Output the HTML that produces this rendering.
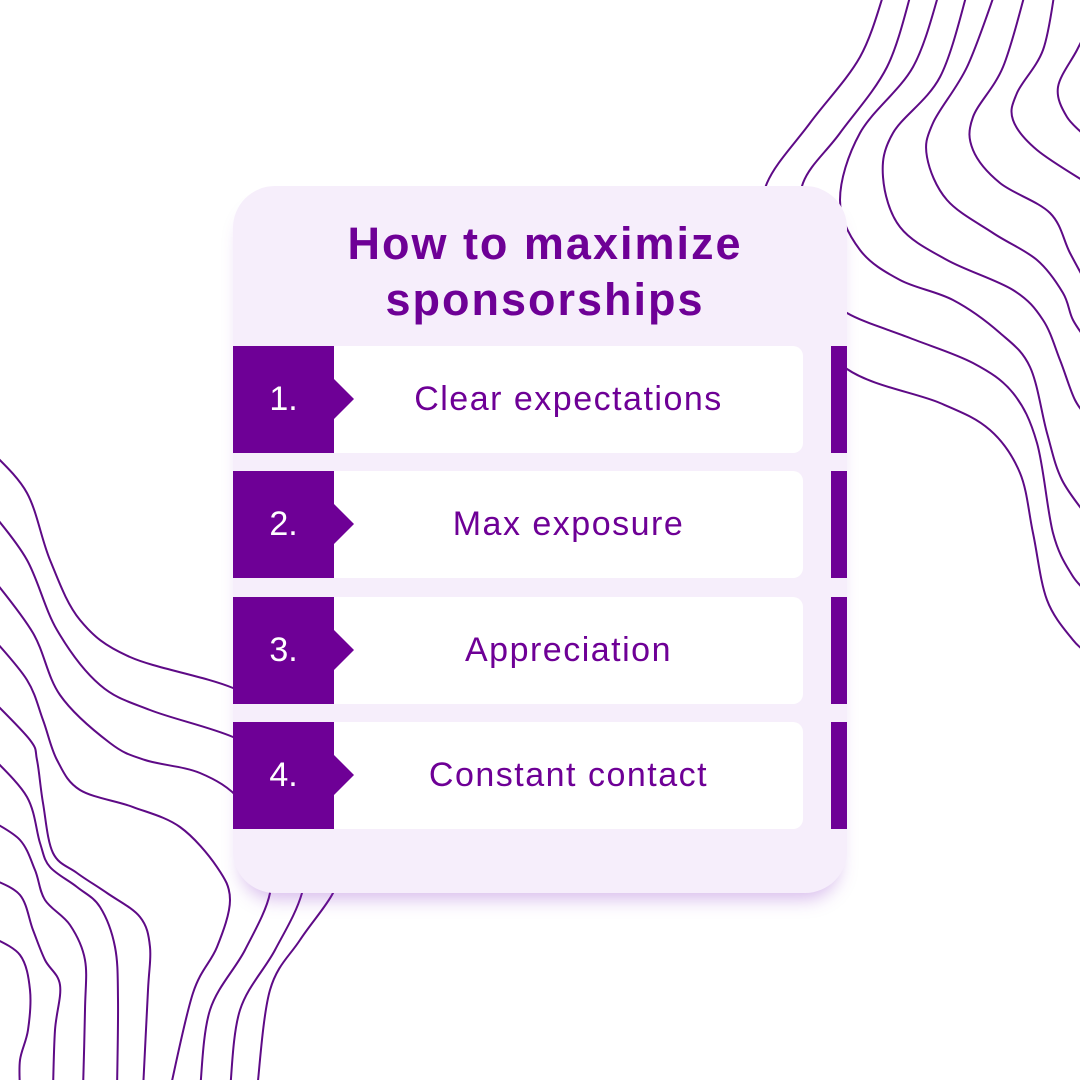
<!DOCTYPE html>
<html><head><style>
html,body{margin:0;padding:0;background:#fff;width:1080px;height:1080px;overflow:hidden;}
body{position:relative;font-family:"Liberation Sans",sans-serif;}
svg.bg{position:absolute;left:0;top:0;display:block;}
.card{position:absolute;left:233px;top:186px;width:614px;height:707px;background:#f6eefb;border-radius:42px;box-shadow:0 14px 18px -8px rgba(140,60,200,0.35);}
.title{position:absolute;left:233px;top:216px;width:624px;text-align:center;color:#6e0096;font-weight:bold;font-size:45px;line-height:56px;letter-spacing:2px;}
.row{position:absolute;left:233px;width:614px;height:107px;}
.num{position:absolute;left:0;top:0;width:101px;height:107px;background:#6e0096;color:#fff;font-size:34px;line-height:107px;text-align:center;}
.tri{position:absolute;left:101px;top:33px;width:0;height:0;border-top:20px solid transparent;border-bottom:20px solid transparent;border-left:20px solid #6e0096;}
.box{position:absolute;left:101px;top:0;width:469px;height:107px;background:#fff;border-radius:0 10px 10px 0;color:#6e0096;font-size:34px;line-height:107px;text-align:center;letter-spacing:1.5px;}
.bar{position:absolute;left:598px;top:0;width:16px;height:107px;background:#6e0096;}
</style></head><body>
<svg class="bg" id="bg" width="1080" height="1080" viewBox="0 0 1080 1080" fill="none" stroke="#5e0a86" stroke-width="2"></svg>
<div class="card"></div>
<div class="title">How to maximize<br>sponsorships</div>
<div class="row" style="top:346px"><div class="box">Clear expectations</div><div class="num">1.</div><div class="tri"></div><div class="bar"></div></div>
<div class="row" style="top:471px"><div class="box">Max exposure</div><div class="num">2.</div><div class="tri"></div><div class="bar"></div></div>
<div class="row" style="top:597px"><div class="box">Appreciation</div><div class="num">3.</div><div class="tri"></div><div class="bar"></div></div>
<div class="row" style="top:722px"><div class="box">Constant contact</div><div class="num">4.</div><div class="tri"></div><div class="bar"></div></div>
<script>
var L=[
[[885,-10],[860,57],[810,123],[767,183],[760,240],[790,300],[847,369],[940,403],[990,430],[1020,473],[1033,533],[1047,600],[1073,640],[1090,655]],
[[912,-10],[887,67],[840,133],[803,183],[800,240],[820,285],[847,313],[910,338],[973,363],[1013,393],[1037,443],[1053,533],[1072,575],[1090,595]],
[[940,-10],[913,67],[860,133],[840,200],[860,250],[900,280],[953,300],[1000,333],[1030,367],[1047,433],[1062,480],[1090,520]],
[[968,-10],[940,77],[893,133],[883,177],[900,227],[947,260],[1013,290],[1043,320],[1060,360],[1075,400],[1090,420]],
[[996,-10],[967,67],[933,123],[927,157],[947,200],[993,233],[1037,260],[1063,293],[1073,320],[1090,345]],
[[1026,-10],[1003,67],[973,117],[973,150],[1000,183],[1050,213],[1070,253],[1090,290]],
[[1055,-10],[1043,50],[1017,93],[1013,120],[1037,150],[1090,185]],
[[1092,20],[1077,50],[1058,87],[1067,117],[1090,140]],
[[-10,450],[27,493],[50,560],[80,620],[130,657],[233,688],[310,730],[345,800],[340,860],[333,893],[300,940],[270,990],[257,1090]],
[[-10,510],[27,560],[57,630],[100,685],[150,710],[233,737],[290,770],[310,830],[302,893],[275,950],[240,1010],[230,1090]],
[[-10,575],[33,633],[60,695],[110,743],[145,760],[200,773],[240,800],[265,850],[270,893],[245,950],[210,1010],[200,1090]],
[[-10,635],[27,680],[43,720],[57,760],[80,790],[133,807],[180,827],[217,867],[230,900],[217,947],[193,993],[170,1090]],
[[-10,698],[30,740],[37,760],[43,803],[53,853],[77,873],[107,893],[140,917],[150,947],[148,990],[143,1090]],
[[-10,755],[27,797],[40,843],[50,867],[77,887],[100,907],[115,947],[118,1000],[117,1090]],
[[-10,820],[20,840],[35,870],[45,900],[70,925],[85,960],[85,1010],[83,1090]],
[[-10,878],[20,895],[33,930],[45,960],[60,985],[55,1030],[53,1090]],
[[-10,936],[20,955],[30,990],[28,1030],[20,1060],[20,1090]]
];
var s="";
L.forEach(function(p){
 var d="M"+p[0][0]+" "+p[0][1];
 for(var i=0;i<p.length-1;i++){
  var p0=p[i-1]||p[i],p1=p[i],p2=p[i+1],p3=p[i+2]||p2;
  var c1x=p1[0]+(p2[0]-p0[0])/6,c1y=p1[1]+(p2[1]-p0[1])/6;
  var c2x=p2[0]-(p3[0]-p1[0])/6,c2y=p2[1]-(p3[1]-p1[1])/6;
  d+=" C"+c1x.toFixed(1)+" "+c1y.toFixed(1)+" "+c2x.toFixed(1)+" "+c2y.toFixed(1)+" "+p2[0]+" "+p2[1];
 }
 s+='<path d="'+d+'"/>';
});
document.getElementById("bg").innerHTML=s;
</script>
</body></html>
